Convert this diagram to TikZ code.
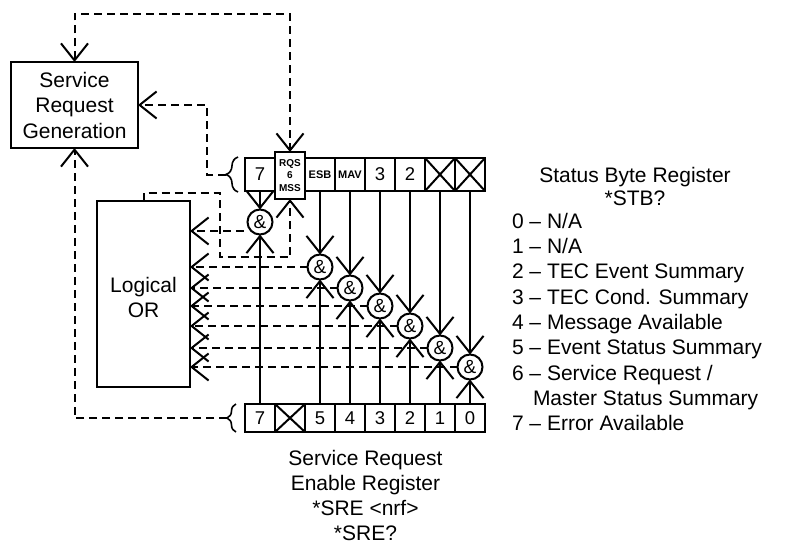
\documentclass[tikz,border=0pt]{standalone}
\usepackage{fontspec}
\setmainfont{Liberation Sans}
\usetikzlibrary{arrows.meta,decorations.pathreplacing,calc}

\begin{document}
\begin{tikzpicture}[x=1pt,y=-1pt,
  every node/.style={inner sep=0pt, outer sep=0pt},
  box/.style={draw, rectangle, line width=2pt},
  cell/.style={draw, rectangle, line width=2pt, minimum width=30pt, minimum height=33pt,
    font=\fontsize{18.5}{18.5}\selectfont},
  tagcell/.style={cell, font=\bfseries\fontsize{11}{12}\selectfont},
  bcell/.style={cell, minimum height=28pt},
  gate/.style={draw, circle, line width=2pt, minimum size=25pt, font=\fontsize{19}{19}\selectfont},
  sline/.style={line width=2pt},
  dline/.style={line width=2pt, dash pattern=on 8pt off 5pt},
  barb/.tip={Straight Barb[length=17pt,width=27pt,line join=miter]},
  into/.style={-barb},
  both/.style={barb-barb},
  big/.style={font=\fontsize{21}{25.5}\selectfont},
  bracestyle/.style={line width=1.6pt, decorate},
]
\useasboundingbox (0,0) rectangle (790,543);

% ---------- boxes ----------
\node[box, big, align=center, minimum width=127pt, minimum height=86pt] (srg) at (74.5,105)
  {Service\\Request\\Generation};
\node[box, minimum width=93pt, minimum height=186pt] (or) at (143.5,294) {};
\node[big, align=center] (ortxt) at (143.5,297.5) {Logical\\OR};

% ---------- status byte register ----------
\node[cell] (t7) at (260,174.5) {7};
\node[tagcell] (t5) at (320,174.5) {ESB};
\node[tagcell] (t4) at (350,174.5) {MAV};
\node[cell] (t3) at (380,174.5) {3};
\node[cell] (t2) at (410,174.5) {2};
\node[cell] (t1) at (440,174.5) {};
\node[cell] (t0) at (470,174.5) {};
\node[cell, fill=white, minimum height=47pt, align=center,
  font=\bfseries\fontsize{10}{12.5}\selectfont] (t6) at (290,175.5) {RQS\\6\\MSS};
\foreach \c in {t1,t0}
  \draw[sline] (\c.north west) -- (\c.south east) (\c.south west) -- (\c.north east);

% ---------- service request enable register ----------
\node[bcell] (b7) at (260,418) {7};
\node[bcell] (b6) at (290,418) {};
\node[bcell] (b5) at (320,418) {5};
\node[bcell] (b4) at (350,418) {4};
\node[bcell] (b3) at (380,418) {3};
\node[bcell] (b2) at (410,418) {2};
\node[bcell] (b1) at (440,418) {1};
\node[bcell] (b0) at (470,418) {0};
\draw[sline] (b6.north west) -- (b6.south east) (b6.south west) -- (b6.north east);

% ---------- braces ----------
\draw[bracestyle, decoration={brace, amplitude=12pt}] (238,192) -- (238,157);
\coordinate (tb) at (226,174.5);
\draw[bracestyle, decoration={brace, amplitude=9pt}] (236,432) -- (236,404);
\coordinate (bb) at (227,418);

% ---------- AND gates ----------
\node[gate] (g7) at (260,222) {\&};
\node[gate] (g5) at (320,267) {\&};
\node[gate] (g4) at (350,288) {\&};
\node[gate] (g3) at (380,306) {\&};
\node[gate] (g2) at (410,326) {\&};
\node[gate] (g1) at (440,348) {\&};
\node[gate] (g0) at (470,367) {\&};

% status bits and enable bits into the gates
\foreach \i in {7,5,4,3,2,1,0} {
  \draw[sline, into] (t\i) -- (g\i);
  \draw[sline, into] (b\i) -- (g\i);
}

% gate outputs into the OR
\coordinate (o7) at ([shift={(-4,9)}]g7.west);
\draw[dline, into] (o7) -- (o7 -| or.east);
\foreach \i in {5,4,3,2,1,0}
  \draw[dline, into] (g\i.west) -- (g\i.west -| or.east);

% OR result into bit 6
\draw[dline, into] (or.north) -- ++(0,-8) -- ++(76,0) -- ++(0,64) -| (t6.south);

% service request generation loops
\draw[dline, both] (srg.north) -- ++(0,-48) -| (t6.north);
\draw[dline, into] (tb) -- ++(-19,0) |- (srg.east);
\draw[dline, into] (bb) -| (srg.south);

% ---------- legend ----------
\node[big, anchor=base] (sbr) at (635,182) {Status Byte Register};
\node[big, anchor=base] (stb) at (635,205) {*STB?};
\node[big, anchor=base west] (l0) at (512,228) {0 – N/A};
\node[big, anchor=base west] (l1) at (512,253.3) {1 – N/A};
\node[big, anchor=base west] (l2) at (512,278.7) {2 – TEC Event Summary};
\node[big, anchor=base west] (l3) at (512,304) {3 – TEC Cond. Summary};
\node[big, anchor=base west] (l4) at (512,329.3) {4 – Message Available};
\node[big, anchor=base west] (l5) at (512,354.7) {5 – Event Status Summary};
\node[big, anchor=base west] (l6) at (512,380) {6 – Service Request /};
\node[big, anchor=base west] (lm) at (533,405.3) {Master Status Summary};
\node[big, anchor=base west] (l7) at (512,430.7) {7 – Error Available};

\node[big, anchor=base] (sre1) at (365.5,465) {Service Request};
\node[big, anchor=base] (sre2) at (365.5,490) {Enable Register};
\node[big, anchor=base] (sre3) at (365.5,515) {*SRE <nrf>};
\node[big, anchor=base] (sre4) at (365.5,540) {*SRE?};
\end{tikzpicture}
\end{document}
